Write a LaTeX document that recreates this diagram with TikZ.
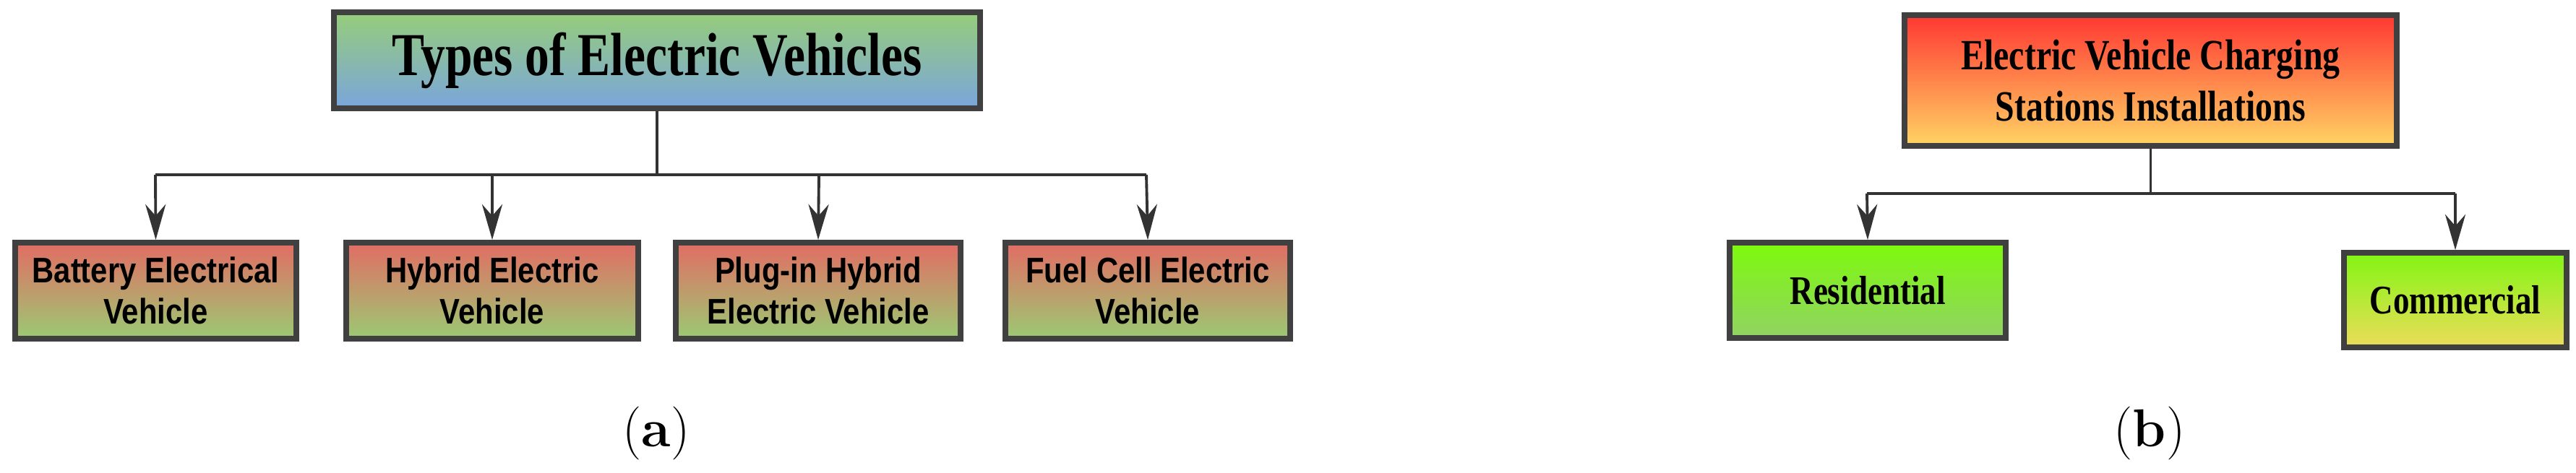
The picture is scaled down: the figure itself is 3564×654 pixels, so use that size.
\documentclass[tikz,border=0pt]{standalone}
\usepackage{fontspec}
\usetikzlibrary{shadows,arrows.meta}
\newfontfamily\condserif[FakeStretch=0.8]{Liberation Serif}
\newfontfamily\condsans[FakeStretch=0.85]{Liberation Sans}
\definecolor{kidtop}{RGB}{226,108,100}
\definecolor{kidbot}{RGB}{155,202,115}
\definecolor{ttop}{RGB}{150,205,122}
\definecolor{tbot}{RGB}{122,165,220}
\definecolor{rtop}{RGB}{255,55,50}
\definecolor{rbot}{RGB}{255,212,100}
\definecolor{restop}{RGB}{125,250,12}
\definecolor{resbot}{RGB}{146,210,100}
\definecolor{comtop}{RGB}{130,245,20}
\definecolor{combot}{RGB}{236,220,90}
\begin{document}
\begin{tikzpicture}[x=0.01cm,y=-0.01cm,
  box/.style={draw=black!75,line width=2.2pt,inner sep=0pt,align=center,drop shadow={opacity=0.3,shadow xshift=1pt,shadow yshift=-1pt}},
  kid/.style={box,top color=kidtop,bottom color=kidbot,font=\condsans\fontsize{14}{16}\selectfont\bfseries},
  arr/.style={draw=black!80,line width=1.1pt,-{Stealth[length=14pt,width=8pt]}},
  ln/.style={draw=black!80,line width=1.1pt},
  capt/.style={font=\fontsize{21}{24}\selectfont}]
\useasboundingbox (0,0) rectangle (3564,654);
% (a)
\node[box,minimum width=8.94cm,minimum height=1.33cm,top color=ttop,bottom color=tbot,font=\condserif\fontsize{24}{28}\selectfont\bfseries] (t) at (909,83.5) {Types of Electric Vehicles};
\node[kid,minimum width=3.89cm,minimum height=1.33cm] (k1) at (215.5,402.5) {Battery Electrical\\Vehicle};
\node[kid,minimum width=4.04cm,minimum height=1.33cm] (k2) at (681,402.5) {Hybrid Electric\\Vehicle};
\node[kid,minimum width=3.94cm,minimum height=1.33cm] (k3) at (1132,402.5) {Plug-in Hybrid\\Electric Vehicle};
\node[kid,minimum width=3.94cm,minimum height=1.33cm] (k4) at (1588,402.5) {Fuel Cell Electric\\Vehicle};
\coordinate (j) at (909,242);
\coordinate (j1) at (215,242);
\coordinate (j2) at (681,242);
\coordinate (j3) at (1133,242);
\coordinate (j4) at (1586,242);
\draw[ln] (t.south) -- (j);
\draw[ln] (j1) -- (j4);
\draw[arr] (j1) -- (k1.north);
\draw[arr] (j2) -- (k2.north);
\draw[arr] (j3) -- (k3.north);
\draw[arr] (j4) -- (k4.north);
\node[capt] (ca) at (908,600) {(\textbf{a})};
% (b)
\node[box,minimum width=6.81cm,minimum height=1.81cm,top color=rtop,bottom color=rbot,font=\condserif\fontsize{17}{20}\selectfont\bfseries] (r) at (2975.5,111.5) {Electric Vehicle Charging\\Stations Installations};
\node[box,minimum width=3.82cm,minimum height=1.32cm,top color=restop,bottom color=resbot,font=\condserif\fontsize{16}{18}\selectfont\bfseries] (res) at (2584,402) {Residential};
\node[box,minimum width=3.08cm,minimum height=1.31cm,top color=comtop,bottom color=combot,font=\condserif\fontsize{16}{18}\selectfont\bfseries] (com) at (3397,415.5) {Commercial};
\coordinate (jb) at (2975.5,268);
\coordinate (jb1) at (2583,268);
\coordinate (jb2) at (3397,268);
\draw[ln] (r.south) -- (jb);
\draw[ln] (jb1) -- (jb2);
\draw[arr] (jb1) -- (res.north);
\draw[arr] (jb2) -- (com.north);
\node[capt] (cb) at (2974,600) {(\textbf{b})};
\end{tikzpicture}
\end{document}
